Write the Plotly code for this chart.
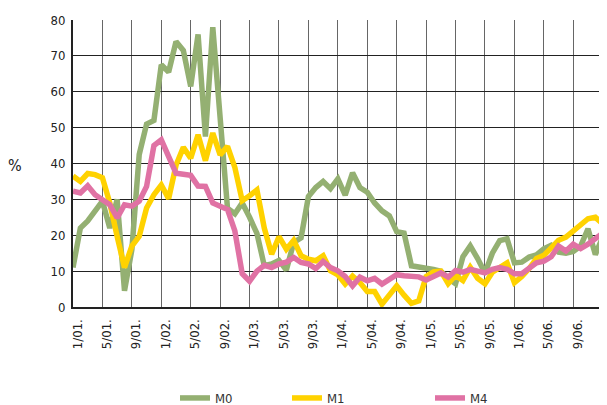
import plotly.graph_objects as go

# month index 0 = 1/01 (January 2001) ... 72 = 1/07
months = list(range(73))

m0 = [11, 22, 24, 26.5, 29.5, 22, 30, 4.5, 16, 42.5,
      51, 52, 67.5, 65.5, 74, 71.5, 61.5, 76, 47.5, 78,
      52, 27.5, 26, 29, 25, 20.5, 11.5, 12, 13, 10.3,
      18, 19.3, 30.8, 33.3, 35, 33, 35.7, 31.2, 37.4, 33.3,
      32, 29, 26.8, 25.4, 21, 20.6, 11.5, 11, 10.8, 10.5,
      10, 8, 6.5, 14, 17, 13.5, 9.5, 15, 18.5, 19,
      12.3, 12.5, 13.9, 14.5, 16.2, 17.2, 15.3, 15, 15.5, 17,
      21.8, 14.6, 19.5]

m1 = [36.5, 35, 37.2, 36.9, 36, 29, 19.7, 11, 17, 19.7,
      27.6, 31.3, 34, 30.2, 39.5, 44.5, 41.5, 48, 40.8, 48.5,
      42.4, 44.8, 38.9, 29.6, 31, 32.6, 22, 14.7, 19.6, 16.1,
      18.6, 14.3, 13.3, 12.9, 14.3, 10.1, 9, 6.4, 8.6, 6.8,
      4.3, 4.3, 0.8, 3.1, 5.9, 3.3, 1, 1.7, 8.5, 9.8,
      10, 6.5, 8.8, 7.4, 11.1, 8, 6.5, 9.7, 11, 12.3,
      6.8, 8.5, 10.7, 13.5, 14.4, 16.7, 18.6, 19.5, 21.3, 23.2,
      24.6, 25, 23.2]

m4 = [32.3, 31.8, 33.8, 31.3, 29.9, 28.5, 24.8, 28.5, 28.1, 29.5,
      33.6, 45, 46.6, 42, 37.3, 37, 36.7, 33.7, 33.6, 29,
      28.2, 27.2, 21.2, 9.3, 7.2, 10, 11.6, 11, 12, 12.5,
      13.8, 12.4, 12, 10.7, 12.7, 11, 10.1, 8.5, 5.9, 8.3,
      7.3, 8, 6.4, 7.8, 9, 8.7, 8.4, 8.4, 7.5, 8.7,
      9.5, 8.3, 10.2, 9.7, 10.5, 10, 9.5, 10.5, 11, 10.5,
      9.3, 9.3, 11, 12.3, 12.8, 14, 17, 15.6, 17.5, 16.3,
      17.5, 19, 20.6]

tick_months = list(range(0, 73, 4))
tick_labels = ["1/01.", "5/01.", "9/01.", "1/02.", "5/02.", "9/02.",
               "1/03.", "5/03.", "9/03.", "1/04.", "5/04.", "9/04.",
               "1/05.", "5/05.", "9/05.", "1/06.", "5/06.", "9/06.", "1/07."]

FONT = "DejaVu Sans Condensed, sans-serif"
colors = {"M0": "#94b072", "M1": "#ffd200", "M4": "#e072a4"}

# the page body adds an 8px offset; figure coords = page coords - 8
OFF = 8
PAGE_RIGHT = 622                      # plot area continues past the window edge
W, H = PAGE_RIGHT - OFF, 405 - OFF
PLOT_L, PLOT_T, PLOT_B = 73, 20, 306.7          # page pixels
L, R, T = PLOT_L - OFF, 0, PLOT_T - OFF
B = H - (PLOT_B - OFF)
PW, PH = W - L - R, H - T - B
PX_PER_MONTH = (602.7 - 73) / 72
XMAX = PW / PX_PER_MONTH


def cx(px):
    return (px - OFF) / W


def cy(py):
    return 1 - (py - OFF) / H


def px2paper(px, py):
    return (px - PLOT_L) / PW, (PLOT_B - py) / PH


fig = go.Figure()
series = [("M0", m0, "legend"), ("M1", m1, "legend2"), ("M4", m4, "legend3")]
for name, vals, lg in series:
    fig.add_trace(go.Scatter(x=months, y=vals, mode="lines", name=name,
                             line=dict(color=colors[name], width=5.5),
                             legend=lg))

leg_common = dict(orientation="h", xref="container", yref="container",
                  xanchor="left", yanchor="middle", bgcolor="rgba(0,0,0,0)",
                  font=dict(family=FONT, size=13, color="#333"))
pct_x, pct_y = px2paper(15, 165)
fig.update_layout(
    width=W, height=H,
    margin=dict(l=L, r=R, t=T, b=B, autoexpand=False),
    paper_bgcolor="white", plot_bgcolor="white",
    font=dict(family=FONT, size=13, color="#222"),
    xaxis=dict(range=[0, XMAX], tickvals=tick_months, showticklabels=False,
               showgrid=True, gridcolor="#666", gridwidth=1,
               showline=True, linecolor="#222", linewidth=2, zeroline=False,
               ticks="", automargin=False),
    xaxis2=dict(range=[0, XMAX], overlaying="x", anchor="y", side="bottom",
                tickvals=[m + 0.6 for m in tick_months], ticktext=tick_labels,
                tickangle=-90, showgrid=False, showline=False, zeroline=False,
                ticks="outside", ticklen=6, tickcolor="rgba(0,0,0,0)",
                automargin=False,
                tickfont=dict(family=FONT, size=13, color="#222")),
    yaxis=dict(range=[0, 80], tickvals=list(range(0, 81, 10)),
               showgrid=True, gridcolor="#222", gridwidth=1,
               showline=True, linecolor="#222", linewidth=2, zeroline=False,
               ticks="outside", ticklen=3, tickcolor="rgba(0,0,0,0)",
               automargin=False,
               tickfont=dict(family=FONT, size=13, color="#222")),
    legend=dict(x=cx(175), y=cy(398), **leg_common),
    legend2=dict(x=cx(287), y=cy(398), **leg_common),
    legend3=dict(x=cx(430), y=cy(398), **leg_common),
    annotations=[dict(text="%", x=pct_x, y=pct_y,
                      xref="paper", yref="paper", showarrow=False,
                      xanchor="center", yanchor="middle",
                      font=dict(family=FONT, size=16, color="#222"))],
)
# invisible trace so the label axis (x2) is rendered
fig.add_trace(go.Scatter(x=[0], y=[0], xaxis="x2", mode="markers",
                         marker=dict(opacity=0), showlegend=False, hoverinfo="skip"))

fig.write_html("out.html")
